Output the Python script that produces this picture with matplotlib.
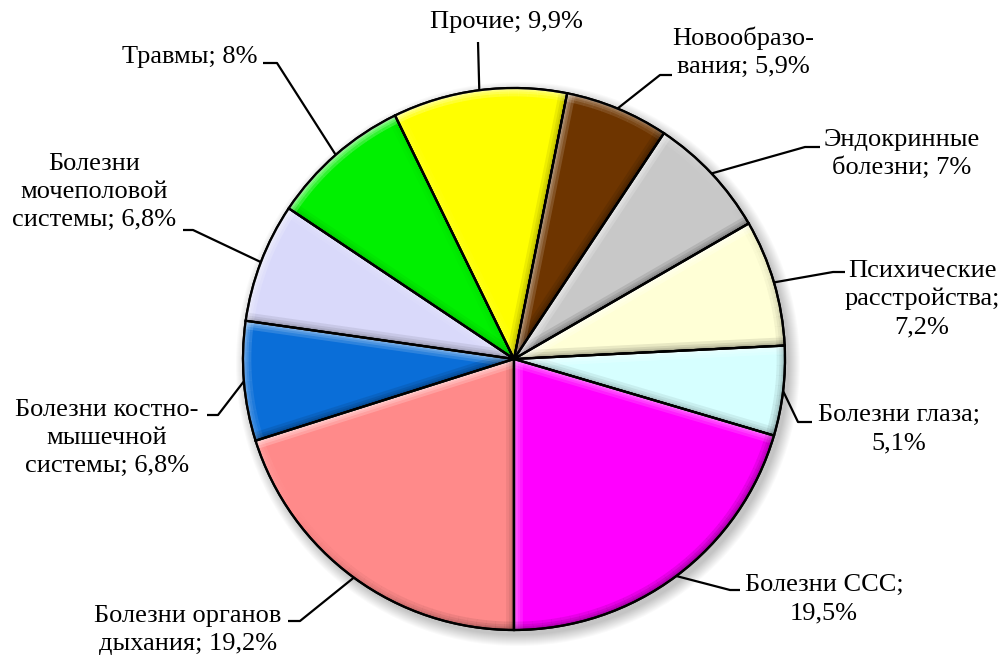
import matplotlib
matplotlib.use('Agg')
import matplotlib.pyplot as plt
from matplotlib.patches import Circle, Wedge
import numpy as np

# Структура заболеваемости (проценты по подписям)
labels = ['Болезни органов\nдыхания; 19,2%', 'Болезни костно-\nмышечной\nсистемы; 6,8%',
          'Болезни\nмочеполовой\nсистемы; 6,8%', 'Травмы; 8%', 'Прочие; 9,9%',
          'Новообразо-\nвания; 5,9%', 'Эндокринные\nболезни; 7%',
          'Психические\nрасстройства;\n7,2%', 'Болезни глаза;\n5,1%', 'Болезни ССС;\n19,5%']
values = [19.2, 6.8, 6.8, 8, 9.9, 5.9, 7, 7.2, 5.1, 19.5]
colors = ['#FF8A8A', '#0A6ED8', '#D9D9FA', '#00F000', '#FFFF00',
          '#6E3500', '#C8C8C8', '#FFFFD6', '#D6FFFF', '#FF00FF']

# label layout in pixels (x, y from top): text centre, and leader line points after the rim
text_pos = [(188, 630), (107, 438), (94, 192), (190, 57), (506, 22),
            (743, 52), (902, 154), (922, 299), (899, 429), (824, 599)]
line_end = [[(300, 621), (288, 621)], [(218, 415), (207, 415)], [(193, 230), (183, 230)],
            [(277, 63), (263, 63)], [(478, 42)], [(660, 75), (672, 75)],
            [(805, 147), (820, 147)], [(833, 272), (845, 272)],
            [(798, 422), (812, 422)], [(730, 590), (740, 590)]]

W, H = 1007, 661
cx, cy, R = 514, H - 359, 271

fig = plt.figure(figsize=(W / 100, H / 100), dpi=100)
ax = fig.add_axes([0, 0, 1, 1])

# soft shadow behind the pie
for k in range(12):
    ax.add_patch(Circle((cx + 4, cy - 5), R + 11 - k, color='black', alpha=0.02, lw=0, zorder=0))

wedges, _ = ax.pie(values, colors=colors, startangle=270, counterclock=False,
                   center=(cx, cy), radius=R,
                   wedgeprops=dict(edgecolor='black', linewidth=1.6))

# bevel: light from the upper left, strips clipped inside each wedge
light = np.deg2rad(125)


def shade(normal_deg):
    return np.cos(np.deg2rad(normal_deg) - light)


for w in wedges:
    w.set_zorder(2)
    t1, t2 = w.theta1, w.theta2
    edges = []
    for th, nrm in [(t1, t1 - 90), (t2, t2 + 90)]:
        a = np.deg2rad(th)
        edges.append(([cx, cx + R * np.cos(a)], [cy, cy + R * np.sin(a)], shade(nrm)))
    ts = np.linspace(t1, t2, max(2, int((t2 - t1) / 2)) + 1)
    for a, b in zip(ts[:-1], ts[1:]):
        ang = np.deg2rad([a, b])
        edges.append((cx + R * np.cos(ang), cy + R * np.sin(ang), shade((a + b) / 2)))
    for x, y, s in edges:
        col = 'white' if s > 0 else 'black'
        amp = 0.8 * s if s > 0 else 0.4 * (-s)
        for lw in [12, 8, 5, 3]:
            ln, = ax.plot(x, y, color=col, alpha=amp / 4, lw=lw, solid_capstyle='butt', zorder=3)
            ln.set_clip_path(w)
    ax.add_patch(Wedge((cx, cy), R, t1, t2, fill=False, edgecolor='black', lw=1.6, zorder=4))

# leader lines and labels
for w, lab, tp, pts in zip(wedges, labels, text_pos, line_end):
    mid = np.deg2rad((w.theta1 + w.theta2) / 2)
    xs = [cx + R * np.cos(mid)] + [p[0] for p in pts]
    ys = [cy + R * np.sin(mid)] + [H - p[1] for p in pts]
    ax.plot(xs, ys, color='black', lw=1.6, zorder=5, solid_capstyle='butt')
    ax.text(tp[0], H - tp[1], lab, ha='center', va='center', fontsize=19,
            family='Liberation Serif', linespacing=1.35, zorder=6)

ax.set_xlim(0, W)
ax.set_ylim(0, H)
ax.set_aspect('equal')
ax.axis('off')
fig.savefig('out.png', dpi=100, facecolor='white')
